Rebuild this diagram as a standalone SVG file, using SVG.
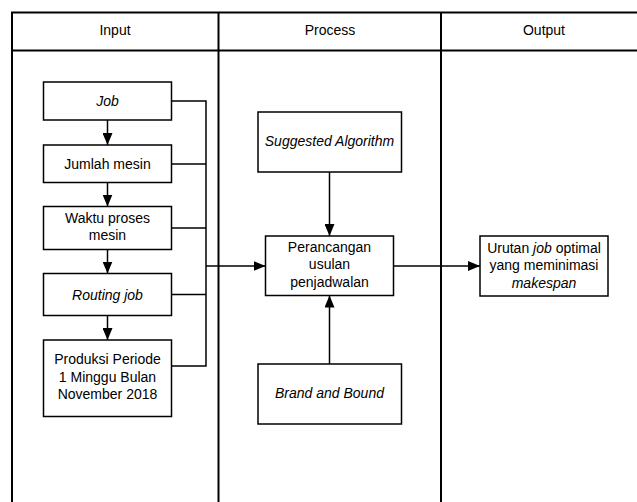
<svg xmlns="http://www.w3.org/2000/svg" width="637" height="502" viewBox="0 0 637 502">
<style>
.lane{fill:none;stroke:#000;stroke-width:2}
.box{fill:#fff;stroke:#000;stroke-width:1.5}
.t{font-family:"Liberation Sans",Arial,sans-serif;font-size:14px;fill:#000;text-anchor:middle}
.i{font-style:italic}
.c{fill:none;stroke:#000;stroke-width:1.5}
</style>
<defs>
<marker id="ah" viewBox="0 0 12 10" refX="12" refY="5" markerWidth="12" markerHeight="10" markerUnits="userSpaceOnUse" orient="auto">
<path d="M0,0 L12,5 L0,10 Z" fill="#000"/>
</marker>
</defs>
<rect width="637" height="502" fill="#fff"/>
<g id="lanes">
<rect class="lane" x="12" y="12.5" width="640" height="500"/>
<line class="lane" x1="12" y1="50.5" x2="652" y2="50.5"/>
<line class="lane" x1="218.5" y1="12.5" x2="218.5" y2="512"/>
<line class="lane" x1="441" y1="12.5" x2="441" y2="512"/>
<text class="t" x="115" y="35">Input</text>
<text class="t" x="330" y="35">Process</text>
<text class="t" x="544" y="35">Output</text>
</g>
<g id="connectors">
<line class="c" x1="107.5" y1="120" x2="107.5" y2="145" marker-end="url(#ah)"/>
<line class="c" x1="107.5" y1="182.5" x2="107.5" y2="206.5" marker-end="url(#ah)"/>
<line class="c" x1="107.5" y1="249.5" x2="107.5" y2="273.5" marker-end="url(#ah)"/>
<line class="c" x1="107.5" y1="315.5" x2="107.5" y2="340" marker-end="url(#ah)"/>
<polyline class="c" points="171.5,101 206,101 206,366 171.5,366"/>
<line class="c" x1="171.5" y1="164" x2="206" y2="164"/>
<line class="c" x1="171.5" y1="228" x2="206" y2="228"/>
<line class="c" x1="171.5" y1="294.5" x2="206" y2="294.5"/>
<line class="c" x1="206" y1="266" x2="265.5" y2="266" marker-end="url(#ah)"/>
<line class="c" x1="329.5" y1="172" x2="329.5" y2="236" marker-end="url(#ah)"/>
<line class="c" x1="329.5" y1="364" x2="329.5" y2="295.5" marker-end="url(#ah)"/>
<line class="c" x1="393.5" y1="266" x2="480" y2="266" marker-end="url(#ah)"/>
</g>
<g id="job">
<rect class="box" x="43.5" y="82" width="128" height="38"/>
<text class="t i" x="107.5" y="106">Job</text>
</g>
<g id="jumlah-mesin">
<rect class="box" x="43.5" y="145" width="128" height="37.5"/>
<text class="t" x="107.5" y="169">Jumlah mesin</text>
</g>
<g id="waktu-proses">
<rect class="box" x="43.5" y="206.5" width="128" height="43"/>
<text class="t" x="107.5" y="223">Waktu proses</text>
<text class="t" x="107.5" y="240">mesin</text>
</g>
<g id="routing-job">
<rect class="box" x="43.5" y="273.5" width="128" height="42"/>
<text class="t i" x="107.5" y="299.5">Routing job</text>
</g>
<g id="produksi">
<rect class="box" x="43.5" y="340" width="128" height="76.5"/>
<text class="t" x="107.5" y="364">Produksi Periode</text>
<text class="t" x="107.5" y="381.5">1 Minggu Bulan</text>
<text class="t" x="107.5" y="399">November 2018</text>
</g>
<g id="suggested-algorithm">
<rect class="box" x="258" y="112" width="143.5" height="60"/>
<text class="t i" x="329.5" y="145.5">Suggested Algorithm</text>
</g>
<g id="perancangan">
<rect class="box" x="265.5" y="236" width="128" height="59.5"/>
<text class="t" x="329.5" y="251.5">Perancangan</text>
<text class="t" x="329.5" y="269">usulan</text>
<text class="t" x="329.5" y="286.5">penjadwalan</text>
</g>
<g id="brand-and-bound">
<rect class="box" x="258" y="364" width="143.5" height="60"/>
<text class="t i" x="329.5" y="397.5">Brand and Bound</text>
</g>
<g id="urutan-job">
<rect class="box" x="480" y="236" width="128" height="60"/>
<text class="t" x="544" y="252.5">Urutan <tspan font-style="italic">job</tspan> optimal</text>
<text class="t" x="544" y="270">yang meminimasi</text>
<text class="t i" x="544" y="287.5">makespan</text>
</g>
</svg>
